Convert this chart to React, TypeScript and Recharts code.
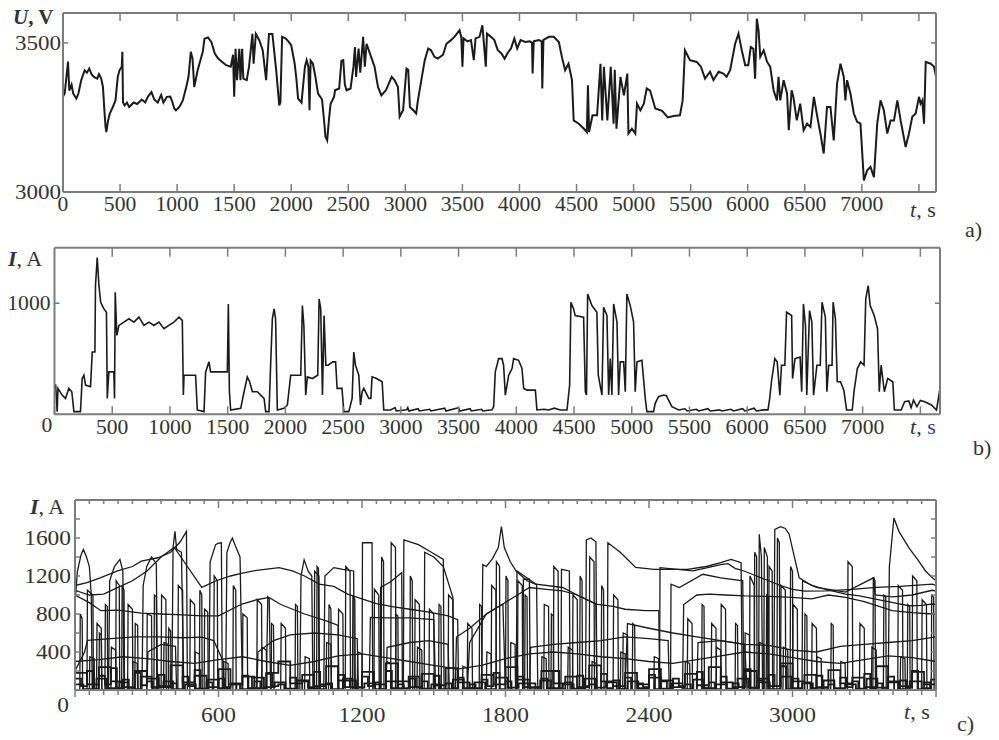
import React from "react";
import { LineChart, Line, XAxis, YAxis } from "recharts";

type Pt = [number, number];

// a) line voltage U, V against t, s
const voltage: Pt[] = [
  [0, 3320], [15, 3330], [44, 3437], [55, 3340], [75, 3360], [90, 3330], [105, 3320], [117, 3313], [135, 3330], [160, 3375],
  [190, 3408], [210, 3400], [230, 3414], [250, 3395], [270, 3386], [300, 3380], [315, 3395], [335, 3380], [350, 3352], [365, 3260],
  [373, 3218], [380, 3201], [395, 3240], [410, 3263], [437, 3285], [460, 3307], [480, 3386], [495, 3408], [515, 3420], [520, 3470],
  [526, 3300], [540, 3290], [560, 3300], [580, 3285], [620, 3300], [650, 3295], [690, 3310], [720, 3300], [745, 3320], [775, 3335],
  [800, 3310], [830, 3300], [860, 3325], [880, 3300], [910, 3319], [940, 3320], [960, 3300], [975, 3280], [990, 3274], [1020, 3285],
  [1050, 3307], [1080, 3352], [1100, 3386], [1120, 3470], [1135, 3447], [1150, 3352], [1180, 3408], [1210, 3450], [1225, 3470], [1240, 3514],
  [1270, 3518], [1300, 3503], [1330, 3464], [1360, 3447], [1395, 3436], [1430, 3425], [1470, 3420], [1490, 3460], [1500, 3319], [1512, 3480],
  [1525, 3375], [1545, 3480], [1555, 3375], [1570, 3480], [1580, 3380], [1610, 3375], [1630, 3420], [1660, 3530], [1670, 3430], [1690, 3530],
  [1720, 3509], [1750, 3475], [1780, 3375], [1805, 3530], [1835, 3530], [1850, 3475], [1870, 3400], [1895, 3290], [1905, 3300], [1920, 3520],
  [1950, 3515], [1975, 3505], [2000, 3492], [2030, 3430], [2045, 3380], [2060, 3313], [2090, 3300], [2120, 3420], [2135, 3442], [2150, 3420],
  [2160, 3274], [2170, 3440], [2190, 3430], [2210, 3390], [2235, 3330], [2270, 3310], [2290, 3230], [2300, 3185], [2315, 3173], [2330, 3240],
  [2345, 3296], [2375, 3319], [2384, 3341], [2420, 3347], [2440, 3440], [2456, 3442], [2470, 3360], [2485, 3341], [2520, 3347], [2545, 3420],
  [2558, 3486], [2568, 3386], [2590, 3481], [2605, 3400], [2630, 3520], [2645, 3420], [2660, 3497], [2700, 3453], [2730, 3420], [2760, 3352],
  [2790, 3324], [2830, 3341], [2880, 3386], [2905, 3375], [2935, 3352], [2950, 3252], [2980, 3274], [3010, 3414], [3025, 3410], [3040, 3285],
  [3070, 3274], [3095, 3263], [3110, 3307], [3140, 3375], [3170, 3442], [3200, 3481], [3225, 3475], [3255, 3453], [3285, 3447], [3330, 3460],
  [3360, 3497], [3400, 3509], [3430, 3520], [3475, 3542], [3490, 3520], [3500, 3420], [3510, 3515], [3545, 3505], [3575, 3509], [3600, 3442],
  [3615, 3515], [3650, 3520], [3675, 3559], [3690, 3490], [3705, 3420], [3715, 3531], [3750, 3520], [3780, 3509], [3810, 3475], [3840, 3465],
  [3870, 3447], [3895, 3465], [3925, 3481], [3955, 3514], [3980, 3481], [4010, 3509], [4050, 3503], [4090, 3505], [4110, 3500], [4115, 3397],
  [4125, 3505], [4170, 3509], [4195, 3505], [4200, 3347], [4210, 3510], [4260, 3520], [4300, 3520], [4345, 3503], [4375, 3447], [4400, 3408],
  [4430, 3430], [4460, 3375], [4475, 3240], [4520, 3229], [4565, 3212], [4590, 3201], [4600, 3358], [4610, 3201], [4640, 3257], [4680, 3257],
  [4710, 3430], [4725, 3240], [4740, 3420], [4770, 3240], [4800, 3420], [4825, 3229], [4835, 3410], [4850, 3212], [4885, 3386], [4915, 3324],
  [4945, 3397], [4955, 3196], [4985, 3212], [5015, 3196], [5030, 3296], [5060, 3274], [5090, 3296], [5115, 3347], [5145, 3340], [5190, 3280],
  [5250, 3272], [5300, 3250], [5350, 3255], [5406, 3257], [5430, 3307], [5450, 3475], [5494, 3442], [5553, 3436], [5590, 3420], [5626, 3380],
  [5670, 3403], [5700, 3375], [5745, 3403], [5787, 3397], [5815, 3386], [5846, 3408], [5890, 3497], [5919, 3531], [5948, 3475], [5978, 3425],
  [6005, 3425], [6027, 3486], [6050, 3480], [6065, 3380], [6080, 3581], [6095, 3542], [6110, 3453], [6140, 3475], [6170, 3436], [6197, 3420],
  [6227, 3341], [6256, 3307], [6270, 3386], [6285, 3307], [6315, 3375], [6345, 3330], [6360, 3207], [6385, 3341], [6400, 3319], [6430, 3240],
  [6460, 3296], [6490, 3207], [6520, 3229], [6550, 3218], [6580, 3319], [6610, 3252], [6637, 3196], [6666, 3129], [6695, 3285], [6725, 3285],
  [6754, 3173], [6783, 3363], [6813, 3430], [6842, 3386], [6856, 3307], [6871, 3375], [6900, 3330], [6930, 3263], [6959, 3235], [6988, 3229],
  [7018, 3039], [7047, 3073], [7076, 3084], [7106, 3050], [7135, 3229], [7164, 3307], [7193, 3274], [7223, 3196], [7252, 3240], [7282, 3240],
  [7311, 3307], [7340, 3240], [7384, 3151], [7413, 3196], [7442, 3252], [7472, 3263], [7501, 3319], [7515, 3296], [7530, 3307], [7545, 3229],
  [7560, 3436], [7604, 3430], [7633, 3420], [7650, 3386],
];

// b) current of one train I, A against t, s
const current: Pt[] = [
  [0, 263], [10, 263], [23, 24], [30, 233], [66, 173], [95, 143], [124, 233], [150, 203], [168, 24], [225, 24],
  [240, 322], [255, 352], [269, 263], [312, 248], [327, 561], [350, 561], [355, 1158], [370, 1412], [385, 1158], [400, 1009],
  [428, 949], [450, 919], [457, 143], [471, 382], [514, 382], [520, 143], [526, 1098], [540, 710], [558, 800], [601, 830],
  [645, 860], [688, 830], [731, 875], [775, 800], [818, 830], [861, 800], [905, 830], [948, 770], [990, 800], [1035, 830],
  [1078, 875], [1107, 845], [1116, 173], [1122, 352], [1179, 352], [1222, 352], [1237, 39], [1295, 24], [1309, 382], [1338, 472],
  [1352, 382], [1497, 382], [1506, 994], [1515, 203], [1526, 39], [1613, 54], [1642, 203], [1670, 337], [1690, 293], [1714, 203],
  [1757, 203], [1815, 143], [1829, 24], [1858, 24], [1873, 472], [1887, 860], [1902, 949], [1915, 860], [1930, 39], [1988, 54],
  [2017, 84], [2046, 352], [2104, 352], [2133, 352], [2147, 979], [2160, 800], [2176, 173], [2190, 337], [2234, 322], [2280, 352],
  [2292, 1039], [2306, 949], [2321, 173], [2335, 890], [2350, 442], [2370, 442], [2410, 472], [2435, 472], [2448, 233], [2490, 233],
  [2506, 24], [2549, 24], [2578, 143], [2592, 561], [2607, 442], [2636, 352], [2650, 84], [2665, 203], [2679, 233], [2722, 143],
  [2740, 143], [2751, 337], [2790, 322], [2838, 293], [2852, 39], [2910, 39], [2950, 60], [2960, 30], [3050, 40], [3060, 60],
  [3070, 30], [3150, 50], [3160, 30], [3250, 45], [3260, 30], [3380, 55], [3390, 30], [3500, 60], [3510, 30], [3600, 50],
  [3610, 30], [3700, 45], [3710, 30], [3790, 40], [3804, 69], [3818, 382], [3847, 501], [3876, 501], [3890, 442], [3905, 173],
  [3934, 352], [3963, 412], [3977, 501], [4020, 486], [4049, 412], [4064, 233], [4093, 218], [4165, 218], [4179, 39], [4240, 45],
  [4280, 39], [4330, 55], [4381, 39], [4439, 39], [4462, 263], [4473, 1009], [4496, 949], [4510, 890], [4583, 875], [4598, 203],
  [4608, 173], [4618, 1084], [4655, 979], [4698, 919], [4710, 352], [4742, 173], [4756, 964], [4785, 890], [4800, 173], [4814, 501],
  [4828, 173], [4843, 994], [4872, 830], [4886, 173], [4900, 472], [4930, 472], [4944, 203], [4958, 1084], [4987, 979], [5016, 830],
  [5030, 203], [5045, 472], [5088, 486], [5117, 143], [5131, 24], [5189, 24], [5203, 99], [5232, 158], [5275, 173], [5300, 168],
  [5319, 128], [5348, 69], [5407, 39], [5460, 50], [5480, 30], [5560, 45], [5580, 30], [5660, 50], [5680, 30], [5760, 40],
  [5780, 30], [5860, 45], [5880, 30], [5960, 50], [5980, 30], [6060, 55], [6080, 30], [6140, 40], [6180, 40], [6195, 143],
  [6210, 293], [6239, 501], [6260, 472], [6283, 173], [6297, 442], [6326, 442], [6341, 919], [6385, 890], [6393, 322], [6414, 501],
  [6458, 516], [6472, 203], [6487, 994], [6505, 800], [6516, 173], [6540, 934], [6560, 830], [6575, 173], [6604, 442], [6633, 442],
  [6648, 1009], [6677, 875], [6690, 203], [6706, 442], [6735, 442], [6744, 1009], [6764, 860], [6780, 293], [6808, 293], [6837, 218],
  [6861, 39], [6910, 39], [6925, 203], [6954, 412], [6983, 472], [7012, 442], [7027, 1039], [7048, 1158], [7065, 979], [7100, 890],
  [7129, 770], [7144, 203], [7160, 442], [7188, 203], [7217, 322], [7261, 293], [7275, 39], [7334, 39], [7363, 113], [7400, 120],
  [7420, 60], [7440, 128], [7470, 70], [7500, 125], [7538, 113], [7596, 84], [7640, 39], [7670, 233],
];

// c) currents of several trains on the section
const trainA: Pt[] = [
  [0, 900], [10, 1250], [25, 1420], [35, 1480], [48, 1400], [60, 1300], [68, 1000], [72, 0], [140, 0], [145, 1150],
  [165, 1300], [188, 1375], [200, 1250], [205, 0], [280, 0], [285, 1100], [300, 1300], [320, 1400], [340, 1330], [345, 0],
  [405, 0], [410, 1500], [418, 1670], [425, 1480], [445, 1450], [455, 0], [630, 0], [635, 1450], [650, 1560], [658, 1600],
  [670, 1520], [690, 1400], [700, 0], [940, 0], [945, 1200], [958, 1370], [975, 1250], [990, 1200], [995, 0], [1200, 0],
  [1202, 1550], [1242, 1550], [1245, 0], [1373, 0], [1375, 1580], [1436, 1530], [1490, 1450], [1540, 1375], [1543, 0], [1700, 0],
  [1705, 1320], [1720, 1300], [1745, 1380], [1770, 1500], [1783, 1720], [1795, 1500], [1820, 1350], [1845, 1250], [1890, 1150], [1930, 1110],
  [1935, 0], [2135, 0], [2138, 1580], [2157, 1600], [2178, 1560], [2182, 0], [2226, 0], [2228, 1550], [2280, 1450], [2344, 1290],
  [2420, 1270], [2483, 1270], [2560, 1270], [2640, 1300], [2700, 1340], [2743, 1375], [2785, 1340], [2790, 0], [2858, 0], [2861, 1640],
  [2870, 1400], [2875, 0], [2922, 0], [2926, 1690], [2950, 1720], [2970, 1700], [2986, 1640], [3028, 1180], [3080, 1100], [3139, 1060],
  [3222, 1010], [3280, 990], [3347, 957], [3420, 920], [3487, 887], [3540, 890], [3584, 905], [3600, 900],
];
const trainB: Pt[] = [
  [0, 1100], [50, 1130], [108, 1183], [178, 1253], [240, 1300], [277, 1357], [347, 1392], [400, 1450], [440, 1560], [466, 1670],
  [470, 0], [560, 0], [565, 1350], [588, 1530], [600, 1545], [612, 1549], [616, 0], [800, 0], [806, 980], [812, 960],
  [818, 0], [1040, 0], [1045, 1200], [1082, 1288], [1120, 1270], [1165, 1253], [1168, 0], [1276, 0], [1278, 1079], [1320, 1140],
  [1366, 1235], [1369, 0], [1460, 0], [1462, 1450], [1500, 1400], [1540, 1300], [1580, 975], [1584, 0], [1873, 0], [1875, 1166],
  [1900, 1166], [1903, 0], [2032, 0], [2034, 1270], [2067, 1253], [2070, 0], [2444, 0], [2446, 1288], [2520, 1270], [2583, 1253],
  [2650, 1290], [2700, 1320], [2730, 1330], [2760, 1280], [2800, 1250], [2850, 1200], [2900, 1150], [2950, 1100], [3000, 1060], [3050, 1040],
  [3139, 1044], [3250, 1060], [3350, 1080], [3450, 1090], [3584, 1114], [3600, 1100],
];
const trainC: Pt[] = [
  [0, 1050], [60, 1000], [120, 1010], [180, 1080], [240, 1150], [300, 1250], [360, 1400], [415, 1500], [470, 1300], [530, 1080],
  [590, 1150], [650, 1200], [700, 1230], [760, 1260], [853, 1288], [909, 1253], [960, 1200], [1021, 1114], [1082, 1090], [1140, 1010],
  [1200, 960], [1260, 910], [1320, 880], [1400, 850], [1480, 820], [1560, 780], [1600, 740], [1604, 0], [1640, 0], [1650, 500],
  [1720, 800], [1789, 905], [1850, 1000], [1900, 1079], [1970, 1060], [2039, 1044], [2100, 1000], [2178, 905], [2250, 880], [2300, 850],
  [2386, 835], [2441, 835], [2445, 0], [2540, 0], [2545, 900], [2600, 1000], [2653, 1009], [2720, 1000], [2800, 990], [2900, 985],
  [3000, 975], [3080, 960], [3150, 1000], [3222, 975], [3300, 930], [3417, 835], [3500, 815], [3584, 800], [3600, 800],
];
const trainD: Pt[] = [
  [0, 1000], [60, 920], [108, 835], [180, 840], [277, 810], [360, 800], [450, 790], [530, 780], [600, 780], [698, 905],
  [760, 950], [811, 975], [860, 900], [960, 800], [1060, 720], [1100, 680], [1104, 0], [1230, 0], [1235, 765], [1300, 760],
  [1400, 760], [1500, 740], [1508, 0], [1845, 0], [1848, 1253], [1928, 1114], [2039, 1079], [2100, 1000], [2178, 905], [2182, 0],
  [2490, 0], [2492, 1114], [2527, 1079], [2625, 1218], [2700, 1180], [2792, 1148], [2796, 0], [3040, 0], [3042, 1148], [3100, 1080],
  [3222, 1030], [3340, 1183], [3345, 1000], [3420, 980], [3500, 1000], [3584, 1050], [3600, 1040],
];
const trainE: Pt[] = [
  [0, 200], [40, 400], [52, 522], [150, 540], [250, 560], [350, 560], [450, 550], [530, 557], [580, 520], [620, 300],
  [625, 0], [760, 0], [765, 400], [830, 520], [900, 580], [1000, 600], [1100, 580], [1180, 540], [1185, 0], [1300, 0],
  [1305, 450], [1400, 500], [1480, 520], [1560, 480], [1565, 0], [1900, 0], [1905, 450], [2000, 480], [2100, 500], [2200, 520],
  [2300, 560], [2400, 540], [2480, 520], [2485, 0], [2600, 0], [2605, 500], [2700, 520], [2800, 480], [2900, 470], [3000, 420],
  [3100, 400], [3200, 460], [3300, 480], [3400, 500], [3500, 520], [3600, 560],
];
const trainF: Pt[] = [
  [0, 0], [20, 0], [22, 800], [30, 750], [32, 0], [90, 0], [92, 700], [110, 650], [112, 0], [220, 0],
  [222, 900], [240, 850], [242, 0], [360, 0], [362, 1000], [380, 950], [382, 0], [480, 0], [482, 950], [500, 900],
  [502, 0], [540, 0], [542, 850], [555, 820], [557, 0], [700, 0], [702, 800], [720, 760], [722, 0], [860, 0],
  [862, 700], [880, 650], [882, 0], [1130, 0], [1132, 1300], [1150, 1250], [1152, 0], [1250, 0], [1252, 1060], [1270, 1000],
  [1272, 0], [1420, 0], [1422, 950], [1440, 900], [1442, 0], [1480, 0], [1482, 850], [1500, 800], [1502, 0], [1640, 0],
  [1642, 700], [1660, 650], [1662, 0], [1740, 0], [1742, 1100], [1760, 1050], [1762, 0], [1960, 0], [1962, 900], [1980, 880],
  [1982, 0], [2080, 0], [2082, 1000], [2100, 950], [2102, 0], [2290, 0], [2292, 600], [2310, 580], [2312, 0], [2560, 0],
  [2562, 750], [2580, 700], [2582, 0], [2660, 0], [2662, 700], [2680, 650], [2682, 0], [2820, 0], [2822, 1200], [2840, 1100],
  [2842, 0], [2900, 0], [2902, 1300], [2915, 1250], [2917, 0], [3000, 0], [3002, 900], [3020, 850], [3022, 0], [3080, 0],
  [3082, 700], [3100, 650], [3102, 0], [3280, 0], [3282, 700], [3300, 650], [3302, 0], [3440, 0], [3442, 1100], [3460, 1050],
  [3462, 0], [3540, 0], [3542, 950], [3560, 900], [3562, 0], [3600, 0],
];
const trainG: Pt[] = [
  [0, 0], [50, 0], [52, 1050], [75, 1000], [77, 0], [170, 0], [172, 1150], [185, 1100], [187, 0], [300, 0],
  [302, 800], [320, 780], [322, 0], [430, 0], [432, 1100], [450, 1050], [452, 0], [580, 0], [582, 1200], [595, 1150],
  [597, 0], [760, 0], [762, 950], [780, 900], [782, 0], [1000, 0], [1002, 1250], [1020, 1200], [1022, 0], [1100, 0],
  [1102, 850], [1120, 800], [1122, 0], [1320, 0], [1322, 1550], [1340, 1500], [1342, 0], [1560, 0], [1562, 1000], [1580, 950],
  [1582, 0], [1760, 0], [1762, 1350], [1775, 1300], [1777, 0], [1850, 0], [1852, 1150], [1870, 1100], [1872, 0], [2000, 0],
  [2002, 1300], [2020, 1250], [2022, 0], [2150, 0], [2152, 1400], [2170, 1350], [2172, 0], [2250, 0], [2252, 1000], [2270, 950],
  [2272, 0], [2700, 0], [2702, 900], [2720, 850], [2722, 0], [2880, 0], [2882, 1500], [2895, 1400], [2897, 0], [2950, 0],
  [2952, 1100], [2970, 1050], [2972, 0], [3230, 0], [3232, 1350], [3250, 1300], [3252, 0], [3336, 0], [3338, 1183], [3345, 1150],
  [3347, 0], [3500, 0], [3502, 1200], [3520, 1150], [3522, 0], [3600, 0],
];
const trainH: Pt[] = [
  [0, 0], [300, 0], [305, 400], [360, 480], [420, 460], [425, 0], [1590, 0], [1595, 557], [1650, 650], [1720, 800],
  [1789, 905], [1800, 0], [2300, 0], [2310, 700], [2400, 650], [2500, 600], [2600, 560], [2700, 520], [2800, 480], [2810, 0],
  [3400, 0], [3405, 1300], [3424, 1810], [3445, 1670], [3487, 1496], [3528, 1357], [3556, 1253], [3584, 1183], [3600, 1150],
];
const trainK: Pt[] = [
  [0, 300], [100, 320], [200, 350], [300, 330], [400, 300], [500, 280], [600, 320], [700, 350], [800, 300], [900, 260],
  [1000, 300], [1100, 360], [1200, 380], [1300, 340], [1400, 300], [1500, 260], [1600, 220], [1700, 260], [1800, 330], [1900, 380],
  [2000, 400], [2100, 380], [2200, 350], [2300, 330], [2400, 300], [2500, 280], [2600, 320], [2700, 360], [2800, 400], [2900, 380],
  [3000, 340], [3100, 300], [3200, 280], [3300, 320], [3400, 360], [3500, 340], [3600, 300],
];
const trainM: Pt[] = [
  [0, 0], [100, 0], [102, 600], [110, 580], [112, 0], [125, 0], [127, 900], [135, 880], [137, 0], [195, 0],
  [197, 1100], [205, 1050], [207, 0], [250, 0], [252, 700], [262, 680], [264, 0], [330, 0], [332, 1000], [340, 980],
  [342, 0], [390, 0], [392, 650], [400, 620], [402, 0], [520, 0], [522, 1050], [530, 1000], [532, 0], [660, 0],
  [662, 1100], [672, 1050], [674, 0], [820, 0], [822, 700], [830, 680], [832, 0], [920, 0], [922, 900], [930, 880],
  [932, 0], [1010, 0], [1012, 1300], [1018, 1280], [1020, 0], [1060, 0], [1062, 900], [1070, 850], [1072, 0], [1160, 0],
  [1162, 1000], [1170, 950], [1172, 0], [1280, 0], [1282, 1400], [1290, 1350], [1292, 0], [1340, 0], [1342, 800], [1350, 780],
  [1352, 0], [1400, 0], [1402, 1200], [1410, 1150], [1412, 0], [1520, 0], [1522, 900], [1530, 880], [1532, 0], [1690, 0],
  [1692, 900], [1700, 880], [1702, 0], [1800, 0], [1802, 1200], [1810, 1150], [1812, 0], [1880, 0], [1882, 1000], [1890, 980],
  [1892, 0], [1990, 0], [1992, 800], [2000, 780], [2002, 0], [2110, 0], [2112, 1200], [2120, 1150], [2122, 0], [2200, 0],
  [2202, 1100], [2210, 1050], [2212, 0], [2330, 0], [2332, 700], [2340, 680], [2342, 0], [2620, 0], [2622, 900], [2630, 880],
  [2632, 0], [2760, 0], [2762, 700], [2770, 680], [2772, 0], [2840, 0], [2842, 1450], [2850, 1400], [2852, 0], [2890, 0],
  [2892, 1000], [2900, 980], [2902, 0], [2935, 0], [2937, 1600], [2945, 1550], [2947, 0], [2990, 0], [2992, 1300], [3000, 1250],
  [3002, 0], [3050, 0], [3052, 800], [3060, 780], [3062, 0], [3160, 0], [3162, 700], [3170, 680], [3172, 0], [3380, 0],
  [3382, 1000], [3390, 980], [3392, 0], [3480, 0], [3482, 900], [3490, 880], [3492, 0], [3580, 0], [3582, 1000], [3590, 980],
  [3592, 0], [3600, 0],
];
const trainN: Pt[] = [
  [0, 0], [60, 0], [62, 350], [80, 330], [82, 0], [150, 0], [152, 450], [170, 420], [172, 0], [240, 0],
  [242, 300], [260, 280], [262, 0], [370, 0], [372, 500], [390, 480], [392, 0], [500, 0], [502, 400], [520, 380],
  [522, 0], [620, 0], [622, 300], [640, 280], [642, 0], [780, 0], [782, 450], [800, 420], [802, 0], [960, 0],
  [962, 350], [980, 330], [982, 0], [1050, 0], [1052, 500], [1070, 480], [1072, 0], [1180, 0], [1182, 400], [1200, 380],
  [1202, 0], [1300, 0], [1302, 300], [1320, 280], [1322, 0], [1430, 0], [1432, 450], [1450, 420], [1452, 0], [1620, 0],
  [1622, 250], [1640, 230], [1642, 0], [1720, 0], [1722, 400], [1740, 380], [1742, 0], [1820, 0], [1822, 500], [1840, 480],
  [1842, 0], [1950, 0], [1952, 350], [1970, 330], [1972, 0], [2060, 0], [2062, 450], [2080, 420], [2082, 0], [2160, 0],
  [2162, 300], [2180, 280], [2182, 0], [2280, 0], [2282, 400], [2300, 380], [2302, 0], [2420, 0], [2422, 350], [2440, 330],
  [2442, 0], [2550, 0], [2552, 300], [2570, 280], [2572, 0], [2680, 0], [2682, 450], [2700, 420], [2702, 0], [2800, 0],
  [2802, 600], [2820, 580], [2822, 0], [2860, 0], [2862, 500], [2880, 480], [2882, 0], [2960, 0], [2962, 450], [2980, 420],
  [2982, 0], [3100, 0], [3102, 350], [3120, 330], [3122, 0], [3200, 0], [3202, 300], [3220, 280], [3222, 0], [3330, 0],
  [3332, 450], [3350, 420], [3352, 0], [3450, 0], [3452, 350], [3470, 330], [3472, 0], [3600, 0],
];
const trains = [trainA, trainB, trainC, trainD, trainE, trainF, trainG, trainH, trainK, trainM, trainN];

// dense low-current band near the time axis (drawn as steps)
const lowBand1: Pt[] = [
  [0, 180], [50, 60], [100, 240], [150, 90], [200, 30], [250, 200], [300, 120], [350, 40], [400, 260], [450, 80],
  [500, 150], [550, 30], [600, 220], [650, 60], [700, 140], [750, 20], [800, 180], [850, 300], [900, 70], [950, 160],
  [1000, 40], [1050, 250], [1100, 100], [1150, 30], [1200, 190], [1250, 60], [1300, 280], [1350, 90], [1400, 30], [1450, 170],
  [1500, 50], [1550, 230], [1600, 80], [1650, 20], [1700, 160], [1750, 60], [1800, 240], [1850, 110], [1900, 30], [1950, 200],
  [2000, 70], [2050, 140], [2100, 30], [2150, 260], [2200, 90], [2250, 40], [2300, 180], [2350, 60], [2400, 220], [2450, 100],
  [2500, 30], [2550, 170], [2600, 50], [2650, 240], [2700, 80], [2750, 30], [2800, 200], [2850, 120], [2900, 40], [2950, 280],
  [3000, 90], [3050, 160], [3100, 30], [3150, 210], [3200, 70], [3250, 130], [3300, 30], [3350, 250], [3400, 90], [3450, 40],
  [3500, 190], [3550, 60], [3600, 120],
];
const lowBand2: Pt[] = [
  [0, 60], [35, 10], [90, 120], [130, 20], [185, 80], [220, 10], [275, 140], [320, 30], [370, 90], [410, 10],
  [460, 60], [505, 15], [555, 110], [600, 20], [650, 70], [690, 10], [740, 130], [790, 30], [835, 80], [880, 15],
  [930, 100], [975, 20], [1025, 60], [1070, 10], [1120, 120], [1160, 25], [1210, 70], [1255, 10], [1300, 90], [1350, 20],
  [1395, 140], [1440, 15], [1490, 60], [1530, 10], [1580, 110], [1625, 20], [1670, 80], [1715, 10], [1760, 130], [1810, 25],
  [1855, 70], [1900, 10], [1945, 100], [1990, 20], [2040, 60], [2085, 15], [2130, 120], [2175, 25], [2220, 80], [2265, 10],
  [2310, 90], [2355, 20], [2400, 130], [2450, 15], [2495, 70], [2540, 10], [2585, 110], [2630, 20], [2680, 60], [2725, 15],
  [2770, 120], [2815, 25], [2860, 80], [2905, 10], [2950, 140], [2995, 20], [3040, 70], [3085, 10], [3130, 100], [3175, 20],
  [3220, 60], [3265, 15], [3310, 120], [3355, 25], [3400, 80], [3445, 10], [3490, 90], [3540, 20], [3580, 110], [3600, 40],
];
const lowBand3: Pt[] = [
  [0, 120], [25, 40], [50, 200], [75, 10], [100, 150], [125, 60], [150, 230], [175, 20], [200, 110], [225, 0],
  [250, 180], [275, 50], [300, 90], [325, 10], [350, 160], [375, 30], [400, 70], [425, 0], [450, 140], [475, 40],
  [500, 210], [525, 10], [550, 80], [575, 0], [600, 120], [625, 30], [650, 60], [675, 0], [700, 150], [725, 20],
  [750, 90], [775, 0], [800, 170], [825, 40], [850, 60], [875, 10], [900, 130], [925, 0], [950, 90], [975, 30],
  [1000, 190], [1025, 10], [1050, 70], [1075, 0], [1100, 160], [1125, 30], [1150, 100], [1175, 0], [1200, 140], [1225, 40],
  [1250, 80], [1275, 10], [1300, 200], [1325, 20], [1350, 60], [1375, 0], [1400, 120], [1425, 30], [1450, 90], [1475, 10],
  [1500, 150], [1525, 0], [1550, 70], [1575, 20], [1600, 130], [1625, 10], [1650, 60], [1675, 0], [1700, 110], [1725, 40],
  [1750, 180], [1775, 10], [1800, 90], [1825, 0], [1850, 140], [1875, 30], [1900, 70], [1925, 0], [1950, 120], [1975, 20],
  [2000, 200], [2025, 10], [2050, 80], [2075, 0], [2100, 150], [2125, 40], [2150, 60], [2175, 0], [2200, 170], [2225, 20],
  [2250, 100], [2275, 10], [2300, 130], [2325, 0], [2350, 70], [2375, 30], [2400, 160], [2425, 10], [2450, 90], [2475, 0],
  [2500, 120], [2525, 40], [2550, 60], [2575, 0], [2600, 190], [2625, 20], [2650, 80], [2675, 10], [2700, 140], [2725, 0],
  [2750, 70], [2775, 30], [2800, 220], [2825, 10], [2850, 100], [2875, 0], [2900, 160], [2925, 40], [2950, 250], [2975, 10],
  [3000, 120], [3025, 0], [3050, 80], [3075, 20], [3100, 150], [3125, 10], [3150, 60], [3175, 0], [3200, 130], [3225, 30],
  [3250, 90], [3275, 0], [3300, 170], [3325, 20], [3350, 70], [3375, 10], [3400, 140], [3425, 0], [3450, 100], [3475, 30],
  [3500, 200], [3525, 10], [3550, 80], [3575, 0], [3600, 120],
];
const lowBands = [lowBand1, lowBand2, lowBand3];

// ticks and labels
const ticksAB = [0, 500, 1000, 1500, 2000, 2500, 3000, 3500, 4000, 4500, 5000, 5500, 6000, 6500, 7000, 7500];
const labelsA = [0, 500, 1000, 1500, 2000, 2500, 3000, 3500, 4000, 4500, 5000, 5500, 6000, 6500, 7000];
const labelsB = [500, 1000, 1500, 2000, 2500, 3000, 3500, 4000, 4500, 5000, 5500, 6000, 6500, 7000];
const ticksC = Array.from({ length: 61 }, (_, i) => i * 60);
const labelsC = [600, 1200, 1800, 2400, 3000];
const yTicksA = [3000, 3500];
const yTicksB = [0, 1000];
const yTicksC = [0, 200, 400, 600, 800, 1000, 1200, 1400, 1600, 1800, 2000];
const yLabelsC = [0, 400, 800, 1200, 1600];

const AXIS = "#7c7c7c";
const INK = "#333";
const LINE = "#1b1b1b";
const FONT = "'Liberation Serif', 'DejaVu Serif', serif";

const rows = (pts: Pt[]) => pts.map(([t, v]) => ({ t, v }));

function txt(x: number, y: number, s: string, anchor: string, size: number, cw: number) {
  return (
    <text x={x} y={y} textAnchor={anchor as any} fontSize={size} fontFamily={FONT} fill={INK}
      textLength={s.length * cw} lengthAdjust="spacingAndGlyphs">{s}</text>
  );
}

const bottomTick = (o: { labels: number[]; major?: number; len: number; minor?: number; dir: number; dy: number; size: number; cw: number }) =>
  (p: any) => {
    const v = p.payload.value;
    const len = !o.major || v % o.major === 0 ? o.len : o.minor ?? o.len;
    return (
      <g>
        <line x1={p.x} x2={p.x} y1={p.y} y2={p.y - o.dir * len} stroke={AXIS} strokeWidth={1.5} />
        {o.labels.includes(v) && txt(p.x, p.y + o.dy, String(v), "middle", o.size, o.cw)}
      </g>
    );
  };

const topTick = (o: { major?: number; len: number; minor?: number }) => (p: any) => {
  const v = p.payload.value;
  const len = !o.major || v % o.major === 0 ? o.len : o.minor ?? o.len;
  return <line x1={p.x} x2={p.x} y1={p.y} y2={p.y + len} stroke={AXIS} strokeWidth={1.5} />;
};

const leftTick = (o: { labels: number[]; len: number; gap: number; size: number; cw: number; zero?: [number, number] }) =>
  (p: any) => {
    const v = p.payload.value;
    let lab = null;
    if (o.labels.includes(v)) {
      lab = v === 0 && o.zero
        ? txt(p.x + o.zero[0], p.y + o.zero[1], "0", "middle", o.size, o.cw)
        : txt(p.x - o.gap, p.y + 7, String(v), "end", o.size, o.cw);
    }
    return (
      <g>
        <line x1={p.x} x2={p.x + o.len} y1={p.y} y2={p.y} stroke={AXIS} strokeWidth={1.5} />
        {lab}
      </g>
    );
  };

const rightTick = (len: number) => (p: any) => (
  <line x1={p.x} x2={p.x - len} y1={p.y} y2={p.y} stroke={AXIS} strokeWidth={1.5} />
);

const axisLine = { stroke: AXIS, strokeWidth: 2 };

export default function App() {
  const common = { type: "number" as const, allowDataOverflow: true, interval: 0 as const, tickLine: false, tickSize: 0, tickMargin: 0, axisLine };
  return (
    <div style={{ position: "absolute", left: 0, top: 0, width: 999, height: 740, background: "#fff" }}>
      {/* a) */}
      <div style={{ position: "absolute", left: 0, top: 0 }}>
        <LineChart width={999} height={225} margin={{ top: 12, right: 62, bottom: 3, left: 8 }}>
          <XAxis xAxisId="b" dataKey="t" {...common} domain={[0, 7650]} ticks={ticksAB} height={30}
            tick={bottomTick({ labels: labelsA, len: 8, dir: 1, dy: 19, size: 20, cw: 10.8 })} />
          <XAxis xAxisId="t" dataKey="t" orientation="top" {...common} domain={[0, 7650]} ticks={ticksAB.slice(1)} height={1}
            tick={topTick({ len: 8 })} />
          <YAxis yAxisId="l" {...common} domain={[3000, 3600]} ticks={yTicksA} width={55}
            tick={leftTick({ labels: yTicksA, len: 5, gap: 2, size: 20, cw: 11.5 })} />
          <YAxis yAxisId="r" orientation="right" {...common} domain={[3000, 3600]} ticks={[3500]} width={1}
            tick={rightTick(5)} />
          <Line xAxisId="b" yAxisId="l" data={rows(voltage)} dataKey="v" type="linear" stroke={LINE}
            strokeWidth={2} dot={false} isAnimationActive={false} />
        </LineChart>
      </div>
      {/* b) */}
      <div style={{ position: "absolute", left: 0, top: 225 }}>
        <LineChart width={999} height={245} margin={{ top: 21.7, right: 58, bottom: 25.7, left: 4.5 }}>
          <XAxis xAxisId="b" dataKey="t" {...common} domain={[0, 7670]} ticks={ticksAB} height={30}
            tick={bottomTick({ labels: labelsB, len: 8, dir: 1, dy: 20, size: 20, cw: 10.8 })} />
          <XAxis xAxisId="t" dataKey="t" orientation="top" {...common} domain={[0, 7670]} ticks={ticksAB.slice(1)} height={1}
            tick={topTick({ len: 9 })} />
          <YAxis yAxisId="l" {...common} domain={[0, 1500]} ticks={yTicksB} width={50}
            tick={leftTick({ labels: yTicksB, len: 5, gap: 4, size: 20, cw: 10.8, zero: [-7.5, 18] })} />
          <YAxis yAxisId="r" orientation="right" {...common} domain={[0, 1500]} ticks={[1000]} width={1}
            tick={rightTick(5)} />
          <Line xAxisId="b" yAxisId="l" data={rows(current)} dataKey="v" type="linear" stroke={LINE}
            strokeWidth={1.6} dot={false} isAnimationActive={false} />
        </LineChart>
      </div>
      {/* c) */}
      <div style={{ position: "absolute", left: 0, top: 470 }}>
        <LineChart width={999} height={270} margin={{ top: 29, right: 62, bottom: 20, left: 20 }}>
          <XAxis xAxisId="b" dataKey="t" {...common} domain={[0, 3600]} ticks={ticksC} height={30}
            tick={bottomTick({ labels: labelsC, major: 600, len: 7, minor: 5, dir: -1, dy: 32, size: 21, cw: 11.7 })} />
          <XAxis xAxisId="t" dataKey="t" orientation="top" {...common} domain={[0, 3600]} ticks={ticksC} height={1}
            tick={topTick({ major: 600, len: 8, minor: 4 })} />
          <YAxis yAxisId="l" {...common} domain={[0, 2000]} ticks={yTicksC} width={55}
            tick={leftTick({ labels: yLabelsC, len: 5, gap: 4, size: 21, cw: 11.7, zero: [-12, 22] })} />
          <YAxis yAxisId="r" orientation="right" {...common} domain={[0, 2000]} ticks={yTicksC} width={1}
            tick={rightTick(5)} />
          {trains.map((pts, i) => (
            <Line key={"tr" + i} xAxisId="b" yAxisId="l" data={rows(pts)} dataKey="v" type="linear" stroke={LINE}
              strokeWidth={1.3} dot={false} isAnimationActive={false} />
          ))}
          {lowBands.map((pts, i) => (
            <Line key={"lb" + i} xAxisId="b" yAxisId="l" data={rows(pts)} dataKey="v" type="stepAfter" stroke={LINE}
              strokeWidth={1.8} dot={false} isAnimationActive={false} />
          ))}
        </LineChart>
      </div>
      {/* axis titles and panel letters */}
      <svg width={999} height={740} style={{ position: "absolute", left: 0, top: 0, pointerEvents: "none" }}
        fontFamily={FONT} fill={INK}>
        <text x={13} y={24} fontSize={21} fontWeight="bold">
          <tspan fontStyle="italic">U</tspan>, V
        </text>
        <text x={8} y={266} fontSize={22}>
          <tspan fontStyle="italic" fontWeight="bold">I</tspan>, A
        </text>
        <text x={30} y={514} fontSize={22}>
          <tspan fontStyle="italic" fontWeight="bold">I</tspan>, A
        </text>
        <text x={910} y={217} fontSize={22}>
          <tspan fontStyle="italic">t</tspan>, s
        </text>
        <text x={910} y={434} fontSize={22}>
          <tspan fontStyle="italic">t</tspan>, <tspan fill="#2b3f8f">s</tspan>
        </text>
        <text x={904} y={719} fontSize={22}>
          <tspan fontStyle="italic">t</tspan>, s
        </text>
        <text x={965} y={237} fontSize={22}>a)</text>
        <text x={973} y={455} fontSize={22}>b)</text>
        <text x={957} y={731} fontSize={22}>c)</text>
      </svg>
    </div>
  );
}
